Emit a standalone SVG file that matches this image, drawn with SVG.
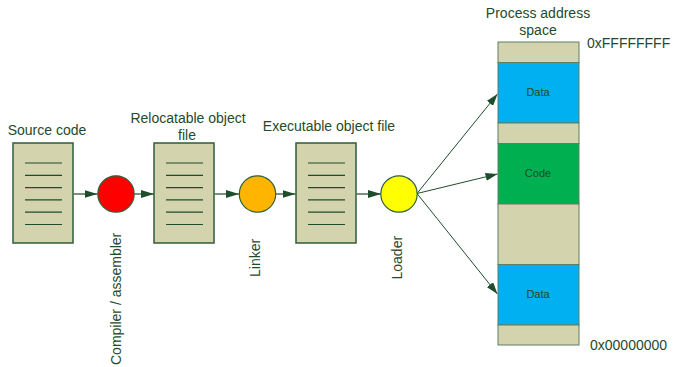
<svg xmlns="http://www.w3.org/2000/svg" width="673" height="367" viewBox="0 0 673 367">
  <style>
    .lbl { font-family: "Liberation Sans", Arial, sans-serif; font-size: 14px; fill: #1f4a2c; }
    .seg { font-family: "Liberation Sans", Arial, sans-serif; font-size: 11px; fill: #1f4a2c; text-anchor: middle; }
    .doc { fill: #d3d3ae; stroke: #2f5e3a; stroke-width: 1.5; }
    .rule { stroke: #1e4d2b; stroke-width: 1.2; }
    .step { stroke: #2f5e3a; stroke-width: 1.2; }
    .link { stroke: #7d917f; stroke-width: 2; fill: none; }
    .ray { stroke: #1e4d2b; stroke-width: 1; fill: none; }
    .band { stroke: #5f7f62; stroke-width: 1; }
  </style>
  <defs>
    <marker id="head" viewBox="0 0 13 8" refX="13" refY="4" markerWidth="13" markerHeight="8" markerUnits="userSpaceOnUse" orient="auto">
      <path d="M0,0 L13,4 L0,8 Z" fill="#1e4d2b"/>
    </marker>
    <marker id="headThin" viewBox="0 0 12 8" refX="12" refY="4" markerWidth="12" markerHeight="8" markerUnits="userSpaceOnUse" orient="auto">
      <path d="M0,0 L12,4 L0,8 Z" fill="#1e4d2b"/>
    </marker>
    <g id="lines">
      <line x1="12" y1="20" x2="49" y2="20" class="rule"/>
      <line x1="12" y1="32.3" x2="49" y2="32.3" class="rule"/>
      <line x1="12" y1="44.6" x2="49" y2="44.6" class="rule"/>
      <line x1="12" y1="56.9" x2="49" y2="56.9" class="rule"/>
      <line x1="12" y1="69.2" x2="49" y2="69.2" class="rule"/>
      <line x1="12" y1="81.5" x2="49" y2="81.5" class="rule"/>
    </g>
  </defs>

  <!-- connectors -->
  <g id="connectors">
    <line x1="73.5" y1="194" x2="97.5" y2="194" class="link" marker-end="url(#head)"/>
    <line x1="134.5" y1="194" x2="154" y2="194" class="link" marker-end="url(#head)"/>
    <line x1="214.5" y1="194" x2="239" y2="194" class="link" marker-end="url(#head)"/>
    <line x1="275.5" y1="194" x2="295.5" y2="194" class="link" marker-end="url(#head)"/>
    <line x1="356.5" y1="194" x2="381" y2="194" class="link" marker-end="url(#head)"/>
    <line x1="417" y1="193.5" x2="497.5" y2="94" class="ray" marker-end="url(#headThin)"/>
    <line x1="417" y1="193.5" x2="497.5" y2="174" class="ray" marker-end="url(#headThin)"/>
    <line x1="417" y1="193.5" x2="497.5" y2="294" class="ray" marker-end="url(#headThin)"/>
  </g>

  <!-- source code file -->
  <g id="source">
    <rect x="13" y="143" width="60" height="100" class="doc"/>
    <use href="#lines" x="13" y="143"/>
    <text x="47" y="135" class="lbl" text-anchor="middle">Source code</text>
  </g>

  <!-- compiler -->
  <g id="compiler">
    <circle cx="116" cy="194" r="18.2" fill="#ff0000" class="step"/>
    <text transform="translate(120.5,365) rotate(-90)" class="lbl">Compiler / assembler</text>
  </g>

  <!-- relocatable object file -->
  <g id="relocatable">
    <rect x="154" y="143" width="60" height="100" class="doc"/>
    <use href="#lines" x="154" y="143"/>
    <text x="188" y="123" class="lbl" text-anchor="middle">Relocatable object</text>
    <text x="187" y="140" class="lbl" text-anchor="middle">file</text>
  </g>

  <!-- linker -->
  <g id="linker">
    <circle cx="257.5" cy="194" r="18.2" fill="#ffb400" class="step"/>
    <text transform="translate(260,277) rotate(-90)" class="lbl">Linker</text>
  </g>

  <!-- executable object file -->
  <g id="executable">
    <rect x="296" y="143" width="60" height="100" class="doc"/>
    <use href="#lines" x="296" y="143"/>
    <text x="329" y="131" class="lbl" text-anchor="middle">Executable object file</text>
  </g>

  <!-- loader -->
  <g id="loader">
    <circle cx="399" cy="194" r="18.2" fill="#ffff00" class="step"/>
    <text transform="translate(402,279.5) rotate(-90)" class="lbl">Loader</text>
  </g>

  <!-- process address space -->
  <g id="address-space">
    <text x="538" y="18" class="lbl" text-anchor="middle">Process address</text>
    <text x="538" y="35" class="lbl" text-anchor="middle">space</text>
    <rect x="498" y="42" width="81" height="20.5" fill="#d3d3ae" class="band"/>
    <rect x="498" y="62.5" width="81" height="60.5" fill="#00b0f0" class="band"/>
    <rect x="498" y="123" width="81" height="20.5" fill="#d3d3ae" class="band"/>
    <rect x="498" y="143.5" width="81" height="60.5" fill="#00b050" class="band"/>
    <rect x="498" y="204" width="81" height="60.5" fill="#d3d3ae" class="band"/>
    <rect x="498" y="264.5" width="81" height="60.5" fill="#00b0f0" class="band"/>
    <rect x="498" y="325" width="81" height="20" fill="#d3d3ae" class="band"/>
    <text x="538" y="96" class="seg">Data</text>
    <text x="538" y="177" class="seg">Code</text>
    <text x="538" y="298" class="seg">Data</text>
    <text x="587" y="47.5" class="lbl">0xFFFFFFFF</text>
    <text x="590" y="350" class="lbl">0x00000000</text>
  </g>
</svg>
